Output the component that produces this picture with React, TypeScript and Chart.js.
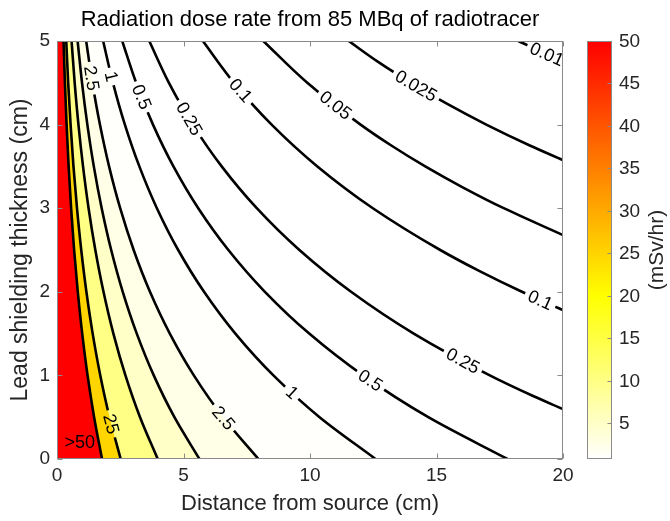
import React, { useEffect, useRef } from 'react';
import { Chart, registerables } from 'chart.js';

Chart.register(...registerables);

const FONT = '"Liberation Sans", Arial, Helvetica, sans-serif';

const TITLE = 'Radiation dose rate from 85 MBq of radiotracer';
const X_TITLE = 'Distance from source (cm)';
const Y_TITLE = 'Lead shielding thickness (cm)';
const CB_TITLE = '(mSv/hr)';

const xTicks = [0, 5, 10, 15, 20];
const yTicks = [0, 1, 2, 3, 4, 5];
const cbTicks = [5, 10, 15, 20, 25, 30, 35, 40, 45, 50];
const cbRange = [0.8, 50];

// contour levels (mSv/hr), highest first
const levels = [50, 25, 10, 5, 2.5, 1, 0.5, 0.25, 0.1, 0.05, 0.025, 0.01];

// contour lines: [distance (cm), lead thickness (cm)], bottom -> top
const line50 = [[1.78, 0], [1.467, 0.5], [1.209, 1], [0.997, 1.5], [0.822, 2], [0.677, 2.5], [0.558, 3], [0.46, 3.5], [0.379, 4], [0.313, 4.5], [0.258, 5]];
const line25 = [[2.518, 0], [2.076, 0.5], [1.711, 1], [1.41, 1.5], [1.162, 2], [0.958, 2.5], [0.79, 3], [0.651, 3.5], [0.537, 4], [0.442, 4.5], [0.365, 5]];
const line10 = [[3.981, 0], [3.282, 0.5], [2.705, 1], [2.229, 1.5], [1.838, 2], [1.515, 2.5], [1.248, 3], [1.029, 3.5], [0.848, 4], [0.699, 4.5], [0.576, 5]];
const line5 = [[5.63, 0], [4.641, 0.5], [3.825, 1], [3.153, 1.5], [2.599, 2], [2.142, 2.5], [1.766, 3], [1.455, 3.5], [1.2, 4], [0.989, 4.5], [0.815, 5]];
const line2p5 = [[7.962, 0], [6.563, 0.5], [5.409, 1], [4.459, 1.5], [3.675, 2], [3.03, 2.5], [2.497, 3], [2.058, 3.5], [1.697, 4], [1.399, 4.5], [1.153, 5]];
const line1 = [[12.59, 0], [10.378, 0.5], [8.554, 1], [7.05, 1.5], [5.812, 2], [4.79, 2.5], [3.948, 3], [3.255, 3.5], [2.683, 4], [2.212, 4.5], [1.823, 5]];
const line0p5 = [[17.804, 0], [14.676, 0.5], [12.096, 1], [9.97, 1.5], [8.218, 2], [6.774, 2.5], [5.583, 3], [4.602, 3.5], [3.794, 4], [3.128, 4.5], [2.578, 5]];
const line0p25 = [[20, 0.596], [18.841, 0.75], [17.107, 1], [14.1, 1.5], [11.623, 2], [9.581, 2.5], [7.896, 3], [6.509, 3.5], [5.366, 4], [4.424, 4.5], [3.646, 5]];
const line0p1 = [[20, 1.781], [18.377, 2], [16.685, 2.25], [15.148, 2.5], [12.485, 3], [10.291, 3.5], [8.484, 4], [6.995, 4.5], [5.765, 5]];
const line0p05 = [[20, 2.678], [17.657, 3], [16.035, 3.25], [14.554, 3.5], [13.214, 3.75], [11.998, 4], [9.893, 4.5], [8.153, 5]];
const line0p025 = [[20, 3.575], [18.688, 3.75], [16.968, 4], [15.407, 4.25], [13.99, 4.5], [12.692, 4.75], [11.529, 5]];
const line0p01 = [[20, 4.76], [18.95, 4.9], [18.23, 5]];

const contourLines = [line50, line25, line10, line5, line2p5, line1, line0p5, line0p25, line0p1, line0p05, line0p025, line0p01];

// inline contour labels: level text and approximate position (cm, cm)
const contourLabels = [
  { level: '2.5', x: 1.25, y: 4.55 },
  { level: '1', x: 2.09, y: 4.57 },
  { level: '0.5', x: 3.17, y: 4.31 },
  { level: '0.25', x: 5.12, y: 4.05 },
  { level: '0.1', x: 7.16, y: 4.38 },
  { level: '0.05', x: 10.93, y: 4.2 },
  { level: '0.025', x: 14.09, y: 4.41 },
  { level: '0.01', x: 19.29, y: 4.79 },
  { level: '0.1', x: 19.1, y: 1.9 },
  { level: '0.25', x: 16.0, y: 1.15 },
  { level: '0.5', x: 12.37, y: 0.93 },
  { level: '1', x: 9.27, y: 0.79 },
  { level: '2.5', x: 6.5, y: 0.47 },
  { level: '25', x: 2.02, y: 0.41 },
];

const overText = { text: '>50', x: 0.9, y: 0.19 };

const TEXT = '#262626';
const BOX = '#8a8a8a';
const LABEL_SIZE = 18;
const TICK_LEN = 5;

function cmap(v: number): string {
  const lo = cbRange[0];
  if (v <= lo) return 'rgb(255,255,255)';
  if (v < 20) {
    const t = (v - lo) / (20 - lo);
    return `rgb(255,255,${Math.round(255 * (1 - t))})`;
  }
  const t = Math.min(1, (v - 20) / 30);
  return `rgb(255,${Math.round(255 * (1 - t))},0)`;
}

function placeLabels(chart: any) {
  const xs = chart.scales.x;
  const ys = chart.scales.y;
  const out: any[] = [];
  for (const lab of contourLabels) {
    const di = chart.data.datasets.findIndex((d: any) => d.label === lab.level);
    if (di < 0) continue;
    const pts = chart.getDatasetMeta(di).data;
    const px = xs.getPixelForValue(lab.x);
    const py = ys.getPixelForValue(lab.y);
    let best = { d: Infinity, x: px, y: py, a: 0 };
    for (let i = 0; i < pts.length - 1; i++) {
      const p = pts[i];
      const q = pts[i + 1];
      const dx = q.x - p.x;
      const dy = q.y - p.y;
      const l2 = dx * dx + dy * dy;
      if (!l2) continue;
      let t = ((px - p.x) * dx + (py - p.y) * dy) / l2;
      t = Math.max(0, Math.min(1, t));
      const qx = p.x + t * dx;
      const qy = p.y + t * dy;
      const d = (qx - px) ** 2 + (qy - py) ** 2;
      if (d < best.d) {
        let a = Math.atan2(dy, dx);
        if (a > Math.PI / 2) a -= Math.PI;
        if (a < -Math.PI / 2) a += Math.PI;
        best = { d, x: qx, y: qy, a };
      }
    }
    out.push({ text: lab.level, di, x: best.x, y: best.y, a: best.a });
  }
  return out;
}

const contourPlugin = {
  id: 'contourPlugin',
  beforeDatasetsDraw(chart: any) {
    const { ctx, chartArea: a, scales } = chart;
    const xs = scales.x;
    const ys = scales.y;
    ctx.save();
    ctx.beginPath();
    ctx.rect(a.left, a.top, a.right - a.left, a.bottom - a.top);
    ctx.clip();
    ctx.fillStyle = cmap(0);
    ctx.fillRect(a.left, a.top, a.right - a.left, a.bottom - a.top);
    for (let i = chart.data.datasets.length - 1; i >= 0; i--) {
      const meta = chart.getDatasetMeta(i);
      const line = meta.dataset;
      line.updateControlPoints(a, meta.iScale.axis);
      ctx.beginPath();
      line.path(ctx);
      ctx.lineTo(xs.getPixelForValue(xs.min), ys.getPixelForValue(ys.max));
      ctx.lineTo(xs.getPixelForValue(xs.min), ys.getPixelForValue(ys.min));
      ctx.lineTo(xs.getPixelForValue(xs.max), ys.getPixelForValue(ys.min));
      ctx.closePath();
      ctx.fillStyle = chart.data.datasets[i].backgroundColor;
      ctx.fill();
    }
    ctx.restore();
    chart.$labels = placeLabels(chart);
  },
  beforeDatasetDraw(chart: any, args: any) {
    const ctx = chart.ctx;
    ctx.save();
    const labs = (chart.$labels || []).filter((l: any) => l.di === args.index);
    if (!labs.length) return;
    ctx.font = `${LABEL_SIZE}px ${FONT}`;
    ctx.beginPath();
    ctx.rect(0, 0, chart.width, chart.height);
    for (const l of labs) {
      const hw = ctx.measureText(l.text).width / 2 + 4;
      const hh = LABEL_SIZE * 0.42;
      const c = Math.cos(l.a);
      const s = Math.sin(l.a);
      const corners = [[-hw, -hh], [hw, -hh], [hw, hh], [-hw, hh]];
      corners.forEach(([u, v], k) => {
        const X = l.x + u * c - v * s;
        const Y = l.y + u * s + v * c;
        if (k === 0) ctx.moveTo(X, Y);
        else ctx.lineTo(X, Y);
      });
      ctx.closePath();
    }
    ctx.clip('evenodd');
  },
  afterDatasetDraw(chart: any) {
    chart.ctx.restore();
  },
  afterDatasetsDraw(chart: any) {
    const { ctx, chartArea: a, scales } = chart;
    ctx.save();
    ctx.beginPath();
    ctx.rect(a.left, a.top, a.right - a.left, a.bottom - a.top);
    ctx.clip();
    ctx.fillStyle = '#000';
    ctx.font = `${LABEL_SIZE}px ${FONT}`;
    ctx.textAlign = 'center';
    ctx.textBaseline = 'middle';
    for (const l of chart.$labels || []) {
      ctx.save();
      ctx.translate(l.x, l.y);
      ctx.rotate(l.a);
      ctx.fillText(l.text, 0, 1);
      ctx.restore();
    }
    ctx.fillText(overText.text, scales.x.getPixelForValue(overText.x), scales.y.getPixelForValue(overText.y));
    ctx.restore();
  },
  afterDraw(chart: any) {
    const { ctx, chartArea: a, scales } = chart;
    const xs = scales.x;
    const ys = scales.y;
    const cb = scales.cb;
    const L = Math.round(a.left) + 0.5;
    const R = Math.round(a.right) - 0.5;
    const T = Math.round(a.top) + 0.5;
    const B = Math.round(a.bottom) - 0.5;
    ctx.save();
    ctx.strokeStyle = BOX;
    ctx.lineWidth = 1;
    ctx.beginPath();
    for (const v of xTicks) {
      const p = Math.round(xs.getPixelForValue(v)) + 0.5;
      ctx.moveTo(p, B);
      ctx.lineTo(p, B - TICK_LEN);
      ctx.moveTo(p, T);
      ctx.lineTo(p, T + TICK_LEN);
    }
    for (const v of yTicks) {
      const p = Math.round(ys.getPixelForValue(v)) + 0.5;
      ctx.moveTo(L, p);
      ctx.lineTo(L + TICK_LEN, p);
      ctx.moveTo(R, p);
      ctx.lineTo(R - TICK_LEN, p);
    }
    ctx.stroke();
    ctx.strokeRect(L, T, R - L, B - T);

    // colorbar
    const bx0 = Math.round(a.right) + 24;
    const bx1 = bx0 + 25;
    const yTop = cb.getPixelForValue(cbRange[1]);
    const yBot = cb.getPixelForValue(cbRange[0]);
    const g = ctx.createLinearGradient(0, yBot, 0, yTop);
    const span = cbRange[1] - cbRange[0];
    g.addColorStop(0, 'rgb(255,255,255)');
    g.addColorStop((20 - cbRange[0]) / span, 'rgb(255,255,0)');
    g.addColorStop(1, 'rgb(255,0,0)');
    ctx.fillStyle = g;
    ctx.fillRect(bx0, yTop, bx1 - bx0, yBot - yTop);
    ctx.strokeRect(bx0 + 0.5, Math.round(yTop) + 0.5, bx1 - bx0 - 1, Math.round(yBot - yTop) - 1);
    ctx.beginPath();
    ctx.fillStyle = TEXT;
    ctx.font = `19px ${FONT}`;
    ctx.textAlign = 'left';
    ctx.textBaseline = 'middle';
    for (const v of cbTicks) {
      const p = Math.round(cb.getPixelForValue(v)) + 0.5;
      ctx.moveTo(bx1 - 0.5, p);
      ctx.lineTo(bx1 - 0.5 - 4, p);
      ctx.fillText(String(v), bx1 + 7, p);
    }
    ctx.stroke();
    ctx.save();
    ctx.translate(bx1 + 45, (yTop + yBot) / 2);
    ctx.rotate(-Math.PI / 2);
    ctx.textAlign = 'center';
    ctx.font = `21px ${FONT}`;
    ctx.fillText(CB_TITLE, 0, 0);
    ctx.restore();
    ctx.restore();
  },
};

export default function App() {
  const ref = useRef<HTMLCanvasElement | null>(null);
  useEffect(() => {
    if (!ref.current) return;
    const datasets = levels.map((lv, i) => ({
      label: String(lv),
      data: contourLines[i].map(([x, y]) => ({ x, y })),
      borderColor: '#000',
      borderWidth: 2.6,
      backgroundColor: cmap(lv),
      fill: false,
      pointRadius: 0,
      pointHoverRadius: 0,
      cubicInterpolationMode: 'monotone',
      clip: 0,
    }));
    const chart = new Chart(ref.current, {
      type: 'line',
      data: { datasets } as any,
      plugins: [contourPlugin],
      options: {
        responsive: false,
        animation: false,
        events: [],
        indexAxis: 'y',
        layout: { padding: { left: 0, right: 107, top: 0, bottom: 0 } },
        plugins: {
          legend: { display: false },
          tooltip: { enabled: false },
          title: {
            display: true,
            fullSize: false,
            text: TITLE,
            color: '#000',
            font: { family: FONT, size: 22, weight: 'normal' },
            padding: { top: 7, bottom: 7.6 },
          },
        },
        scales: {
          x: {
            type: 'linear',
            position: 'bottom',
            min: 0,
            max: 20,
            afterBuildTicks: (s: any) => { s.ticks = xTicks.map((v) => ({ value: v })); },
            afterFit: (s: any) => { s.height = 62; },
            ticks: { color: TEXT, font: { family: FONT, size: 19 }, padding: 5, maxRotation: 0, autoSkip: false },
            grid: { display: false, drawTicks: false },
            border: { display: false },
            title: { display: true, text: X_TITLE, color: TEXT, font: { family: FONT, size: 22 }, padding: { top: 0, bottom: 4 } },
          },
          y: {
            type: 'linear',
            position: 'left',
            min: 0,
            max: 5,
            afterBuildTicks: (s: any) => { s.ticks = yTicks.map((v) => ({ value: v })); },
            afterFit: (s: any) => { s.width = 57; },
            ticks: { color: TEXT, font: { family: FONT, size: 19 }, padding: 7, autoSkip: false },
            grid: { display: false, drawTicks: false },
            border: { display: false },
            title: { display: true, text: Y_TITLE, color: TEXT, font: { family: FONT, size: 23 }, padding: { top: 7, bottom: 0 } },
          },
          cb: {
            type: 'linear',
            position: 'right',
            display: false,
            min: cbRange[0],
            max: cbRange[1],
          },
        },
      } as any,
    });
    return () => chart.destroy();
  }, []);
  return (
    <div style={{ position: 'fixed', left: 0, top: 0, width: 670, height: 521, background: '#fff' }}>
      <canvas ref={ref} width={670} height={521} style={{ display: 'block' }} />
    </div>
  );
}
